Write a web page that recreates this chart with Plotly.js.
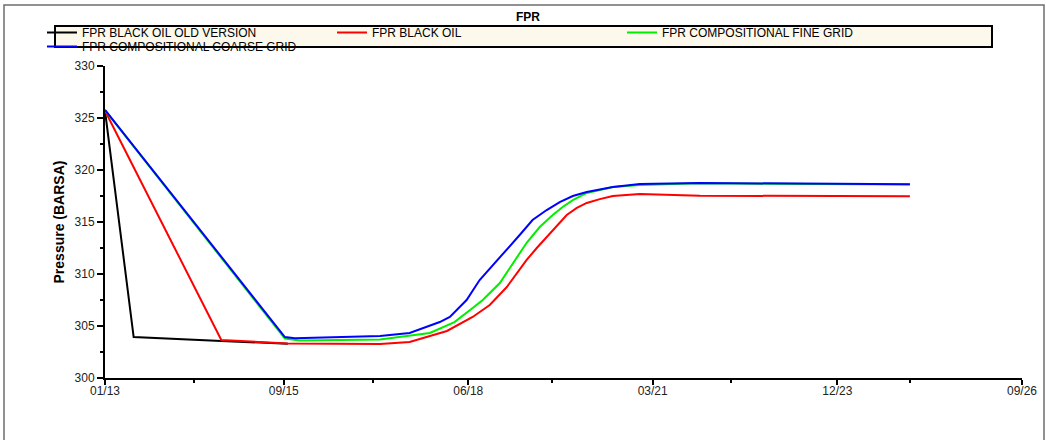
<!DOCTYPE html>
<html>
<head>
<meta charset="utf-8">
<script src="https://cdn.plot.ly/plotly-3.0.1.min.js"></script>
<style>
  html, body { margin: 0; padding: 0; background: #ffffff; }
  #chart { width: 1046px; height: 440px; }
</style>
</head>
<body>
<div id="chart"></div>
<script>
// ---- Data ----
var seriesNames = [
  'FPR BLACK OIL OLD VERSION',
  'FPR BLACK OIL',
  'FPR COMPOSITIONAL FINE GRID',
  'FPR COMPOSITIONAL COARSE GRID'
];

var blackOldDates = ['2013-01-01', '2013-06-06', '2014-09-26', '2015-09-23'];
var blackOldValues = [325.7, 303.94, 303.56, 303.29];

var blackOilDates = ['2013-01-01', '2014-09-26', '2015-09-23', '2017-02-06', '2017-07-17',
  '2018-02-05', '2018-06-25', '2018-09-26', '2018-12-28', '2019-02-21', '2019-04-15',
  '2019-06-09', '2019-08-02', '2019-09-26', '2019-11-19', '2020-01-13', '2020-03-07',
  '2020-05-17', '2020-07-27', '2020-12-21', '2021-06-18', '2021-11-13', '2024-12-30'];
var blackOilValues = [325.7, 303.65, 303.32, 303.27, 303.46,
  304.52, 305.87, 307.02, 308.75, 310.1, 311.35,
  312.5, 313.56, 314.7, 315.67, 316.35, 316.83,
  317.2, 317.5, 317.69, 317.6, 317.53, 317.47];

var fineGridDates = ['2013-01-01', '2015-09-07', '2015-11-27', '2017-02-06', '2017-11-04',
  '2018-03-18', '2018-06-25', '2018-08-19', '2018-11-20', '2019-02-21', '2019-04-15',
  '2019-06-25', '2019-09-04', '2019-10-28', '2019-12-22', '2020-03-07', '2020-07-27',
  '2020-12-21', '2021-11-13', '2024-12-30'];
var fineGridValues = [325.75, 303.8, 303.61, 303.7, 304.33,
  305.38, 306.73, 307.5, 309.13, 311.63, 313.0,
  314.52, 315.67, 316.44, 317.1, 317.79, 318.37,
  318.56, 318.72, 318.61];

var coarseGridDates = ['2013-01-01', '2015-09-07', '2015-10-31', '2017-02-06', '2017-07-17',
  '2017-12-28', '2018-02-21', '2018-04-15', '2018-05-23', '2018-08-02', '2018-12-28',
  '2019-03-08', '2019-05-17', '2019-08-02', '2019-10-12', '2019-12-22', '2020-03-07',
  '2020-07-27', '2020-12-21', '2021-11-13', '2024-12-30'];
var coarseGridValues = [325.78, 303.94, 303.82, 304.04, 304.33,
  305.38, 305.87, 306.83, 307.5, 309.42, 312.31,
  313.75, 315.19, 316.15, 316.92, 317.5, 317.88,
  318.37, 318.65, 318.75, 318.63];

var xTickVals = ['2013-01-01', '2015-09-01', '2018-06-01', '2021-03-01', '2023-12-01', '2026-09-01'];
var xTickText = ['01/13', '09/15', '06/18', '03/21', '12/23', '09/26'];
var xMinorTickVals = ['2014-05-01', '2017-01-01', '2019-09-01', '2022-05-01', '2025-01-01'];

// ---- Chart ----
var FONT = 'Liberation Sans, Arial, sans-serif';
var W = 1046, H = 440;
var L = 105, R = 24, T = 66, B = 62;
var PW = W - L - R, PH = H - T - B;
function px(x) { return (x - L) / PW; }
function py(y) { return (H - B - y) / PH; }

var traces = [
  { x: blackOldDates, y: blackOldValues, name: seriesNames[0], type: 'scatter', mode: 'lines',
    line: { color: '#000000', width: 2 }, legend: 'legend' },
  { x: blackOilDates, y: blackOilValues, name: seriesNames[1], type: 'scatter', mode: 'lines',
    line: { color: '#ff0000', width: 2 }, legend: 'legend' },
  { x: fineGridDates, y: fineGridValues, name: seriesNames[2], type: 'scatter', mode: 'lines',
    line: { color: '#00ee00', width: 2 }, legend: 'legend' },
  { x: coarseGridDates, y: coarseGridValues, name: seriesNames[3], type: 'scatter', mode: 'lines',
    line: { color: '#0000ff', width: 2 }, legend: 'legend2' }
];

var legendCommon = {
  orientation: 'h',
  xref: 'container', yref: 'container',
  xanchor: 'left', yanchor: 'top',
  entrywidth: 245, entrywidthmode: 'pixels',
  bgcolor: 'rgba(0,0,0,0)', borderwidth: 0,
  font: { family: FONT, size: 12, color: '#000000' },
  itemwidth: 30, traceorder: 'normal', tracegroupgap: 0
};

var layout = {
  width: W, height: H, autosize: false,
  margin: { l: L, r: R, t: T, b: B, pad: 0 },
  paper_bgcolor: '#ffffff', plot_bgcolor: '#ffffff',
  font: { family: FONT, size: 12, color: '#000000' },
  title: { text: '<b>FPR</b>', font: { family: FONT, size: 12, color: '#000000' },
           xref: 'container', yref: 'container', x: 528 / W, xanchor: 'center',
           y: 1 - 17 / H, yanchor: 'middle' },
  showlegend: true,
  legend: Object.assign({}, legendCommon, { x: 42 / W, y: 1 - 18 / H }),
  legend2: Object.assign({}, legendCommon, { x: 42 / W, y: 1 - 32 / H }),
  xaxis: {
    type: 'date',
    range: ['2013-01-01', '2026-09-01'],
    tickmode: 'array', tickvals: xTickVals, ticktext: xTickText,
    ticks: 'outside', ticklen: 5, tickwidth: 2, tickcolor: '#000000',
    ticklabelstandoff: -4,
    minor: { tickmode: 'array', tickvals: xMinorTickVals, ticks: 'outside', ticklen: 3, tickwidth: 2, tickcolor: '#000000', showgrid: false },
    showline: true, linecolor: '#000000', linewidth: 2,
    showgrid: false, zeroline: false,
    tickfont: { family: FONT, size: 12, color: '#222222' },
    fixedrange: true
  },
  yaxis: {
    range: [300, 330],
    tickmode: 'linear', tick0: 300, dtick: 5,
    ticks: 'outside', ticklen: 6, tickwidth: 2, tickcolor: '#000000',
    minor: { dtick: 2.5, ticks: 'outside', ticklen: 3, tickwidth: 2, tickcolor: '#000000', showgrid: false },
    showline: true, linecolor: '#000000', linewidth: 2,
    showgrid: false, zeroline: false,
    tickfont: { family: FONT, size: 12, color: '#222222' },
    title: { text: '<b>Pressure (BARSA)</b>', font: { family: FONT, size: 14, color: '#000000' }, standoff: 7 },
    fixedrange: true
  },
  shapes: [
    // outer frame
    { type: 'rect', xref: 'paper', yref: 'paper', layer: 'below',
      x0: px(4), x1: px(1044), y0: py(460), y1: py(5),
      line: { color: '#6e6e6e', width: 1.5 }, fillcolor: 'rgba(0,0,0,0)' },
    // legend box
    { type: 'rect', xref: 'paper', yref: 'paper', layer: 'below',
      x0: px(55), x1: px(992), y0: py(47), y1: py(26),
      line: { color: '#000000', width: 2 }, fillcolor: '#fdf8ec' }
  ]
};

Plotly.newPlot('chart', traces, layout, { displayModeBar: false, staticPlot: true });
</script>
</body>
</html>
